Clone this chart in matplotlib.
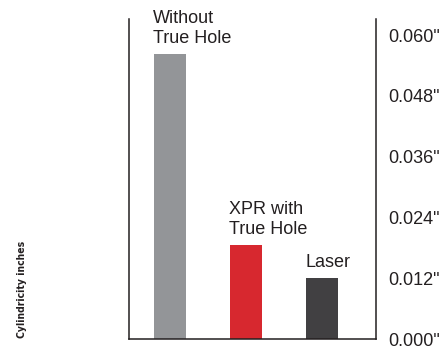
import matplotlib; matplotlib.use("Agg")
import matplotlib.pyplot as plt

labels = ["Without\nTrue Hole", "XPR with\nTrue Hole", "Laser"]
values = [0.05625, 0.0186, 0.0120]
colors = ["#939598", "#d7282f", "#414042"]
ticks = [0.000, 0.012, 0.024, 0.036, 0.048, 0.060]
tick_labels = ['0.000"', '0.012"', '0.024"', '0.036"', '0.048"', '0.060"']
ylabel = "Cylindricity inches"

plt.rcParams["font.family"] = ["Liberation Sans", "DejaVu Sans"]
TXT = "#231f20"

fig = plt.figure(figsize=(4.46, 3.49), dpi=100)
ax = fig.add_axes([129/446, 10/349, 247/446, 320/349])
x = list(range(len(values)))
w = 0.42
ax.bar(x, values, width=w, color=colors, zorder=2)
for xi, v, lab in zip(x, values, labels):
    ax.annotate(lab, (xi - w/2, v), xytext=(-1, 7), textcoords="offset pixels",
                ha="left", va="bottom", fontsize=13, color=TXT, linespacing=1.25)

ax.set_xlim(-0.54, 2.71)
ax.set_ylim(0, 0.06 * 320 / 304)
ax.set_xticks([])
ax.yaxis.tick_right()
ax.set_yticks(ticks)
ax.set_yticklabels(tick_labels)
ax.tick_params(axis="y", length=0, pad=9, labelsize=13, labelcolor=TXT)
ax.spines["top"].set_visible(False)
for s in ("left", "right", "bottom"):
    ax.spines[s].set_color("#231f20")
    ax.spines[s].set_linewidth(1.1)

fig.text(22/446, 1 - 289/349, ylabel, rotation=90, ha="center", va="center",
         fontsize=7.5, fontweight="bold", fontstretch="condensed", color=TXT,
         family="DejaVu Sans")

fig.savefig("out.png", dpi=100)
